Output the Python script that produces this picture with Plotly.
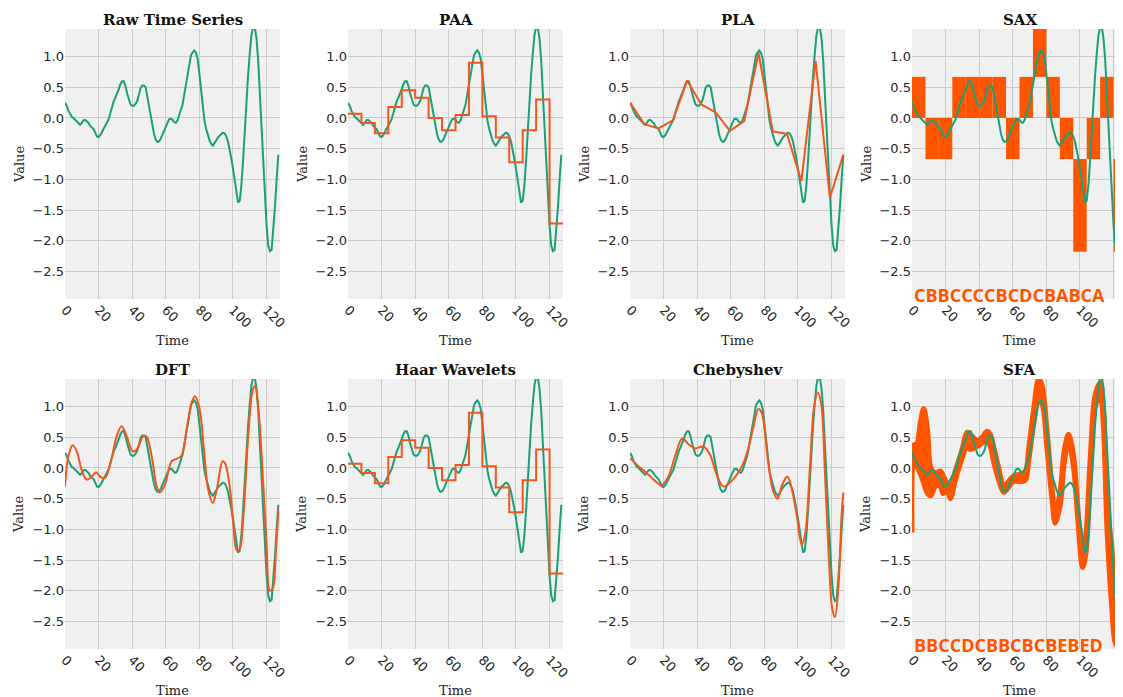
import plotly.graph_objects as go

# ---------------- data ----------------
time = list(range(128))
raw = [0.25, 0.20, 0.12, 0.06, 0.02, 0.00, -0.03, -0.06, -0.09, -0.11,
       -0.08, -0.04, -0.03, -0.05, -0.08, -0.13, -0.16, -0.18, -0.24, -0.30,
       -0.31, -0.28, -0.23, -0.18, -0.13, -0.07, -0.02, 0.08, 0.18, 0.27,
       0.33, 0.39, 0.47, 0.55, 0.60, 0.60, 0.52, 0.40, 0.29, 0.22,
       0.20, 0.20, 0.23, 0.28, 0.38, 0.49, 0.53, 0.53, 0.50, 0.35,
       0.18, 0.02, -0.14, -0.26, -0.35, -0.39, -0.38, -0.34, -0.27, -0.20,
       -0.13, -0.07, -0.02, -0.01, -0.03, -0.07, -0.08, -0.04, 0.04, 0.12,
       0.22, 0.38, 0.56, 0.74, 0.92, 1.02, 1.07, 1.10, 1.06, 0.96,
       0.72, 0.45, 0.20, -0.04, -0.17, -0.27, -0.36, -0.42, -0.45, -0.41,
       -0.36, -0.32, -0.29, -0.26, -0.24, -0.25, -0.30, -0.38, -0.50, -0.66,
       -0.82, -1.02, -1.22, -1.38, -1.35, -1.10, -0.70, -0.20, 0.25, 0.70,
       1.05, 1.35, 1.48, 1.48, 1.30, 0.95, 0.40, -0.15, -0.75, -1.30,
       -1.75, -2.08, -2.17, -2.15, -1.85, -1.45, -1.00, -0.60]

segment_edges = [0, 8, 16, 24, 32, 40, 48, 56, 64, 72, 80, 88, 96, 104, 112, 120, 128]
paa_values = [0.07, -0.08, -0.25, 0.18, 0.45, 0.33, 0.00, -0.20,
              0.05, 0.90, 0.03, -0.32, -0.72, -0.20, 0.30, -1.72]
haar_values = [0.07, -0.08, -0.25, 0.18, 0.45, 0.33, 0.00, -0.20,
               0.05, 0.90, 0.03, -0.32, -0.72, -0.20, 0.30, -1.72]

pla_t = [0, 8.5, 17, 25.5, 34, 42.5, 51, 59.5, 68, 76.5, 85, 93.5, 102, 110.5, 119, 127]
pla_v = [0.25, -0.10, -0.17, -0.04, 0.61, 0.22, 0.09, -0.21, -0.05, 1.06,
         -0.22, -0.26, -1.03, 0.93, -1.30, -0.60]

sax_word = "CBBCCCCBCDCBABCA"
sax_lower = {"A": -2.18, "B": -0.67, "C": 0.0, "D": 0.67}
sax_upper = {"A": -0.67, "B": 0.0, "C": 0.67, "D": 1.50}

dft_t = [0, 2, 4.6, 7, 9.9, 12.9, 15.9, 18.5, 20.8, 23.8, 26.8, 30.8, 33.7, 36.7,
         40.3, 42.7, 46.6, 48.6, 51.6, 54.6, 56.5, 59.5, 63.5, 66.5, 69.4, 72.4,
         75.4, 77.4, 80, 82.7, 85.3, 87.9, 90.3, 93.8, 95.2, 97.8, 100.2, 102.2,
         103.8, 106.2, 109.1, 111.7, 113.1, 115.1, 118, 120, 122, 123.6, 125.6, 127]
dft_v = [-0.30, 0.19, 0.37, 0.27, -0.03, -0.19, -0.14, -0.07, -0.14, -0.16, 0.05,
         0.52, 0.68, 0.52, 0.27, 0.30, 0.52, 0.51, 0.19, -0.30, -0.40, -0.27,
         0.11, 0.15, 0.20, 0.63, 1.07, 1.17, 0.98, 0.30, -0.36, -0.57, -0.36,
         0.11, 0.08, -0.25, -0.90, -1.34, -1.33, -0.79, 0.52, 1.26, 1.33, 0.98,
         -0.25, -1.23, -2.00, -1.97, -1.34, -0.68]

cheb_t = [0, 5, 9.9, 14.9, 18.8, 22.8, 26.8, 31.1, 34.7, 38.7, 43.7, 47.6, 51.6,
          55.6, 60.5, 65.5, 69.4, 73.4, 76.4, 78.4, 82.3, 85.3, 87.9, 90.7, 93.7,
          96.2, 99.2, 102.2, 104.2, 107.1, 109.5, 111.7, 113.7, 116.1, 118.5,
          120.4, 122, 124, 126, 127]
cheb_v = [0.16, 0.03, -0.08, -0.21, -0.28, -0.14, 0.19, 0.48, 0.39, 0.32, 0.35,
          0.22, -0.11, -0.30, -0.21, -0.03, 0.22, 0.66, 0.96, 0.90, 0.08, -0.38,
          -0.50, -0.27, -0.14, -0.33, -0.76, -1.25, -1.09, 0.00, 0.98, 1.23,
          1.07, -0.11, -1.53, -2.29, -2.43, -1.97, -0.76, -0.40]

sfa_word = "BBCCDCBBCBCBEBED"
sfa_t = [0, 1, 2.6, 5, 7, 9.3, 11.3, 13.9, 16.9, 18.5, 20.8, 22.8, 25.8, 29.8,
         32.7, 34.7, 38.7, 41.7, 44.6, 46.6, 48.6, 51.6, 54.6, 56.5, 60.5, 64.5,
         67.5, 69.4, 72.4, 75.4, 77.4, 80.4, 83.3, 85.3, 88.3, 90.7, 93.2, 96.2,
         98.6, 101.6, 103.5, 106.2, 109.1, 112.1, 114, 116.1, 119, 121, 122.5, 124, 125.5, 127]
sfa_upper = [0.40, 0.38, 0.38, 0.75, 0.97, 0.60, 0.00, -0.08, -0.05, -0.12, -0.25,
             -0.30, -0.05, 0.30, 0.58, 0.55, 0.45, 0.50, 0.60, 0.55, 0.35, 0.00,
             -0.30, -0.25, -0.13, -0.10, -0.05, 0.30, 0.95, 1.45, 1.35, 0.60, -0.30,
             -0.75, -0.35, 0.30, 0.55, 0.20, -0.60, -1.45, -1.10, 0.20, 1.20, 1.39,
             0.95, -0.60, -1.30, -2.20, -2.00, -0.80, 0.30, 0.50]
sfa_lower = [-1.05, 0.15, 0.05, -0.10, -0.25, -0.42, -0.45, -0.30, -0.30, -0.42,
             -0.35, -0.50, -0.20, 0.15, 0.35, 0.30, 0.35, 0.40, 0.45, 0.35, 0.10,
             -0.20, -0.40, -0.35, -0.22, -0.22, -0.20, 0.10, 0.70, 1.12, 1.05, 0.30,
             -0.50, -0.90, -0.60, 0.10, 0.42, 0.00, -0.80, -1.62, -1.40, -0.10, 1.00,
             1.15, 0.65, -1.00, -2.30, -2.85, -2.90, -1.80, -0.60, 0.00]

titles = ["Raw Time Series", "PAA", "PLA", "SAX", "DFT", "Haar Wavelets", "Chebyshev", "SFA"]
x_ticks = [0, 20, 40, 60, 80, 100, 120]
y_ticks = [-2.5, -2.0, -1.5, -1.0, -0.5, 0.0, 0.5, 1.0]

# ---------------- style ----------------
GREEN = "#1aa079"
ORANGE = "#f4561c"
FILL = "#ff5500"
OFF = 8                      # page body margin offset
W, H = 1123 - OFF, 697 - OFF
col_left = [65 - OFF, 348 - OFF, 630 - OFF, 912 - OFF]
col_width = 215
row_top = [29 - OFF, 379 - OFF]
row_height = 270
Y_RANGE = [-2.95, 1.45]
X_MAX = 128

fig = go.Figure()

def ax_names(i):
    s = "" if i == 0 else str(i + 1)
    return "x" + s, "y" + s, "xaxis" + s, "yaxis" + s

layout_axes = {}
annotations = []
for i in range(8):
    r, c = divmod(i, 4)
    xr, yr, xk, yk = ax_names(i)
    left = col_left[c]
    right = min(left + col_width, W)
    xmax = X_MAX * (right - left) / col_width
    top = row_top[r]
    bottom = top + row_height
    layout_axes[xk] = dict(
        domain=[left / W, right / W], anchor=yr, range=[0, xmax], automargin=False,
        tickvals=x_ticks, tickangle=45, showgrid=True, gridcolor="#cbcbcb",
        gridwidth=1, zeroline=False, showline=False, ticks="",
        tickfont=dict(family="DejaVu Sans", size=13, color="#262626"),
    )
    layout_axes[yk] = dict(
        domain=[1 - bottom / H, 1 - top / H], anchor=xr, range=Y_RANGE, automargin=False,
        tickvals=y_ticks, tickformat=".1f", showgrid=True, gridcolor="#cbcbcb",
        gridwidth=1, zeroline=False, showline=False, ticks="",
        tickfont=dict(family="DejaVu Sans", size=13, color="#262626"),
    )
    cx = (left + left + col_width) / 2
    annotations.append(dict(
        text="<b>%s</b>" % titles[i], x=cx / W, y=1 - (top - 9) / H,
        xref="paper", yref="paper", xanchor="center", yanchor="middle",
        showarrow=False, font=dict(family="DejaVu Serif", size=15, color="#111")))
    annotations.append(dict(
        text="Time", x=cx / W, y=1 - (bottom + 41) / H,
        xref="paper", yref="paper", xanchor="center", yanchor="middle",
        showarrow=False, font=dict(family="DejaVu Serif", size=13, color="#222")))
    annotations.append(dict(
        text="Value", x=(left - 46) / W, y=1 - (top + 136) / H, textangle=-90,
        xref="paper", yref="paper", xanchor="center", yanchor="middle",
        showarrow=False, font=dict(family="DejaVu Serif", size=13, color="#222")))

def raw_trace(i):
    xr, yr, _, _ = ax_names(i)
    return go.Scatter(x=time, y=raw, mode="lines", line=dict(color=GREEN, width=2),
                      xaxis=xr, yaxis=yr, showlegend=False)

def step_trace(i, values):
    xr, yr, _, _ = ax_names(i)
    xs = segment_edges
    ys = values + [values[-1]]
    return go.Scatter(x=xs, y=ys, mode="lines", line=dict(color=ORANGE, width=2, shape="hv"),
                      xaxis=xr, yaxis=yr, showlegend=False)

# 1 raw
fig.add_trace(raw_trace(0))
# 2 PAA
fig.add_trace(raw_trace(1))
fig.add_trace(step_trace(1, paa_values))
# 3 PLA
fig.add_trace(raw_trace(2))
fig.add_trace(go.Scatter(x=pla_t, y=pla_v, mode="lines", line=dict(color=ORANGE, width=2),
                         xaxis="x3", yaxis="y3", showlegend=False))
# 4 SAX
centers = [(segment_edges[k] + segment_edges[k + 1]) / 2 for k in range(16)]
bases = [sax_lower[ch] for ch in sax_word]
heights = [sax_upper[ch] - sax_lower[ch] for ch in sax_word]
fig.add_trace(go.Bar(x=centers, y=heights, base=bases, width=8, marker=dict(color=FILL, line=dict(width=0)),
                     xaxis="x4", yaxis="y4", showlegend=False))
fig.add_trace(raw_trace(3))
# 5 DFT
fig.add_trace(raw_trace(4))
fig.add_trace(go.Scatter(x=dft_t, y=dft_v, mode="lines", line=dict(color=ORANGE, width=2, shape="spline"),
                         xaxis="x5", yaxis="y5", showlegend=False))
# 6 Haar
fig.add_trace(raw_trace(5))
fig.add_trace(step_trace(5, haar_values))
# 7 Chebyshev
fig.add_trace(raw_trace(6))
fig.add_trace(go.Scatter(x=cheb_t, y=cheb_v, mode="lines", line=dict(color=ORANGE, width=2, shape="spline"),
                         xaxis="x7", yaxis="y7", showlegend=False))
# 8 SFA
fig.add_trace(go.Scatter(x=sfa_t, y=sfa_lower, mode="lines", line=dict(color=FILL, width=5, shape="spline"),
                         xaxis="x8", yaxis="y8", showlegend=False))
fig.add_trace(go.Scatter(x=sfa_t, y=sfa_upper, mode="lines", line=dict(color=FILL, width=5, shape="spline"),
                         fill="tonexty", fillcolor=FILL, xaxis="x8", yaxis="y8", showlegend=False))
fig.add_trace(raw_trace(7))

# words
for word, r in ((sax_word, 0), (sfa_word, 1)):
    annotations.append(dict(
        text="<b>%s</b>" % word, x=col_left[3] / W, y=1 - (row_top[r] + row_height - 4) / H,
        xref="paper", yref="paper", xanchor="left", yanchor="middle", showarrow=False,
        font=dict(family="Open Sans", size=18, color=FILL)))

fig.update_layout(
    width=W, height=H, margin=dict(l=0, r=0, t=0, b=0),
    paper_bgcolor="white", plot_bgcolor="#f0f0f0",
    annotations=annotations, barmode="overlay", **layout_axes)

fig.write_html("out.html")
